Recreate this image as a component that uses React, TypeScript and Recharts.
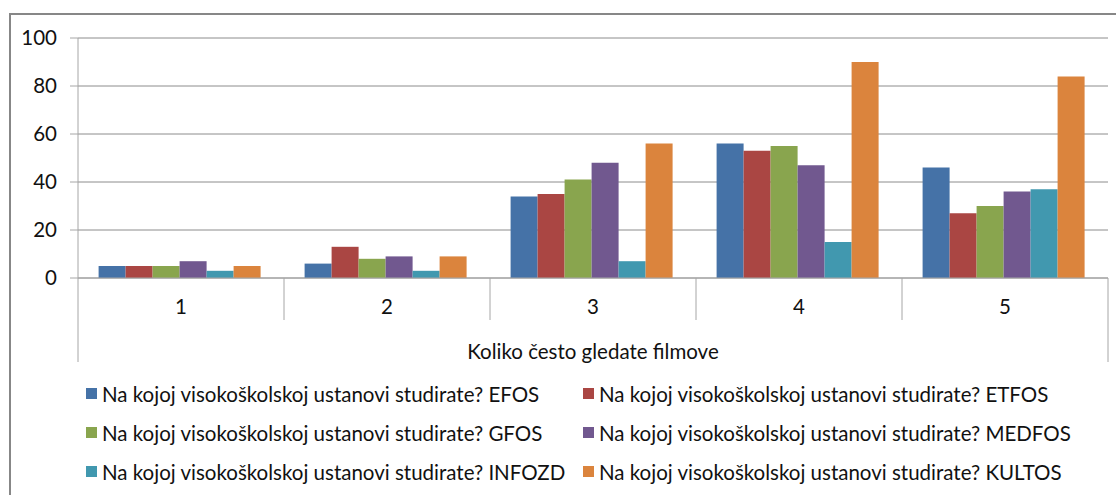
import React from 'react';
import { BarChart, Bar, XAxis, YAxis, CartesianGrid, Legend } from 'recharts';

// categories on the x axis (Koliko često gledate filmove)
const categories = ['1', '2', '3', '4', '5'];

// one array per faculty
const efos = [5, 6, 34, 56, 46];
const etfos = [5, 13, 35, 53, 27];
const gfos = [5, 8, 41, 55, 30];
const medfos = [7, 9, 48, 47, 36];
const infozd = [3, 3, 7, 15, 37];
const kultos = [5, 9, 56, 90, 84];

const yTicks = [0, 20, 40, 60, 80, 100];

const seriesNames = [
  'Na kojoj visokoškolskoj ustanovi studirate? EFOS',
  'Na kojoj visokoškolskoj ustanovi studirate? ETFOS',
  'Na kojoj visokoškolskoj ustanovi studirate? GFOS',
  'Na kojoj visokoškolskoj ustanovi studirate? MEDFOS',
  'Na kojoj visokoškolskoj ustanovi studirate? INFOZD',
  'Na kojoj visokoškolskoj ustanovi studirate? KULTOS',
];
const seriesValues = [efos, etfos, gfos, medfos, infozd, kultos];
const colors = ['#4572A7', '#AA4643', '#89A54E', '#71588F', '#4198AF', '#DB843D'];

const chartData = categories.map((name, i) => {
  const row: Record<string, any> = { name };
  seriesValues.forEach((vals, s) => {
    row[`s${s}`] = vals[i];
  });
  return row;
});

const FONT = 'Lato, "Open Sans", sans-serif';
const FONT_SIZE = 20.5;
const AXIS_GRAY = '#a6a6a6';

const CategoryTick = (props: any) => {
  const { x, y, payload, index } = props;
  const half = payload?.offset ?? 103;
  const last = index === categories.length - 1;
  return (
    <g>
      <line x1={x - half} x2={x - half} y1={y} y2={index === 0 ? y + 84 : y + 42} stroke={AXIS_GRAY} />
      {last && <line x1={x + half} x2={x + half} y1={y} y2={y + 84} stroke={AXIS_GRAY} />}
      <text x={x} y={y + 28} textAnchor="middle" dominantBaseline="central" fontSize={FONT_SIZE} fontFamily={FONT} fill="#111">
        {payload.value}
      </text>
    </g>
  );
};

const LegendGrid = () => (
  <div
    style={{
      display: 'grid',
      gridTemplateColumns: '497px 497px',
      rowGap: 16,
      paddingLeft: 86,
      fontFamily: FONT,
      fontSize: FONT_SIZE,
      color: '#111',
    }}
  >
    {seriesNames.map((n, i) => (
      <div key={n} style={{ display: 'flex', alignItems: 'center', height: 23, whiteSpace: 'nowrap' }}>
        <span style={{ display: 'inline-block', width: 11, height: 11, background: colors[i], marginRight: 5 }} />
        {n}
      </div>
    ))}
  </div>
);

export default function App() {
  return (
    <div style={{ position: 'absolute', left: 0, top: 0, width: 1116, height: 495, overflow: 'hidden', background: '#fff' }}>
      <div
        style={{
          position: 'absolute',
          left: 9,
          top: 13,
          width: 1200,
          height: 600,
          borderTop: '2px solid #878787',
          borderLeft: '2px solid #878787',
        }}
      />
      <div style={{ position: 'absolute', left: 0, top: 0 }}>
        <BarChart
          width={1116}
          height={495}
          data={chartData}
          margin={{ top: 38, right: 8, left: 0, bottom: 133 }}
          barCategoryGap="10%"
          barGap={0}
        >
          <CartesianGrid vertical={false} stroke="#8c8c8c" />
          <XAxis
            dataKey="name"
            height={84}
            axisLine={{ stroke: AXIS_GRAY }}
            tickLine={false}
            tickSize={0}
            tickMargin={0}
            interval={0}
            tick={<CategoryTick />}
            label={{
              value: 'Koliko često gledate filmove',
              position: 'insideBottom',
              offset: 3,
              fontSize: FONT_SIZE,
              fontFamily: FONT,
              fill: '#111',
            }}
          />
          <YAxis
            width={78}
            domain={[0, 100]}
            ticks={yTicks}
            interval={0}
            axisLine={{ stroke: AXIS_GRAY }}
            tickLine={{ stroke: AXIS_GRAY }}
            tickSize={8}
            tickMargin={13}
            tick={{ fontSize: FONT_SIZE, fontFamily: FONT, fill: '#111' }}
          />
          <Legend
            layout="horizontal"
            verticalAlign="middle"
            align="center"
            wrapperStyle={{ top: 382, left: 0, width: 1116 }}
            content={<LegendGrid />}
          />
          {seriesValues.map((_, s) => (
            <Bar key={s} dataKey={`s${s}`} name={seriesNames[s]} fill={colors[s]} isAnimationActive={false} />
          ))}
        </BarChart>
      </div>
    </div>
  );
}
